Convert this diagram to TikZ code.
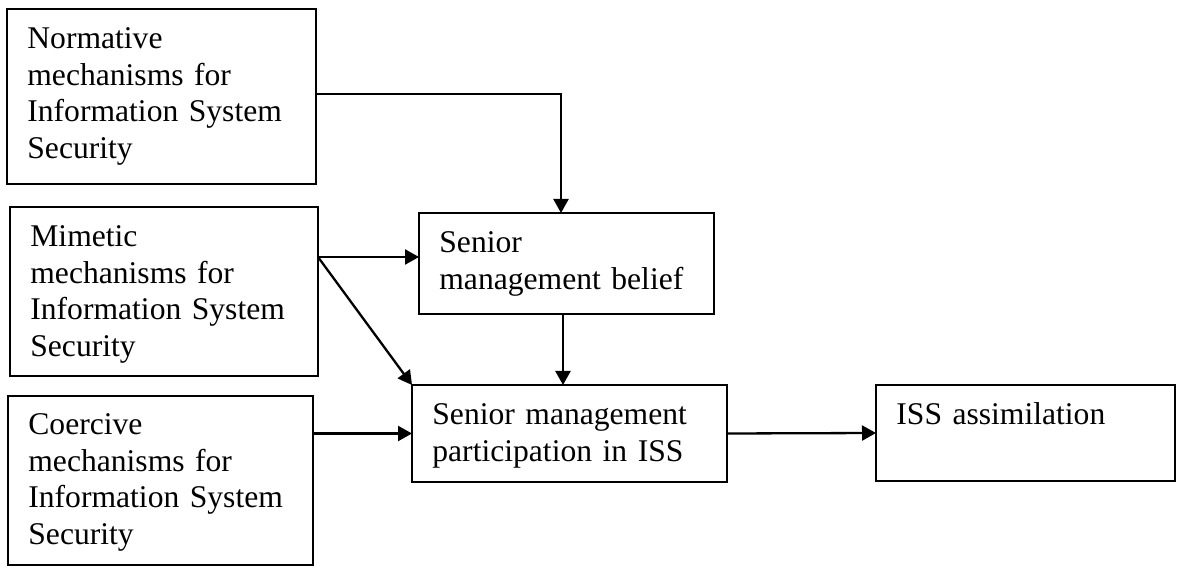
\documentclass[tikz,border=0pt]{standalone}
\usepackage{fontspec}
\setmainfont{Liberation Serif}
\usetikzlibrary{arrows.meta,calc}
\begin{document}
\begin{tikzpicture}[x=0.5pt,y=-0.5pt,
  box/.style={draw,line width=1.15pt,inner sep=0pt,outer sep=0pt},
  label/.style={anchor=base west,inner sep=0pt,text width=170pt,align=left,
    font=\fontsize{15.8pt}{18.2pt}\selectfont},
  arr/.style={line width=1.15pt,-{Triangle[length=7pt,width=7.5pt]}}]
  \useasboundingbox (0,0) rectangle (1178,566);

  % boxes
  \node[box,minimum width=154.5pt,minimum height=87.5pt] (N) at (161.5,96.5) {};
  \node[box,minimum width=154pt,minimum height=84.5pt]   (M) at (164,291.5) {};
  \node[box,minimum width=152.5pt,minimum height=84.5pt] (C) at (160.5,480.5) {};
  \node[box,minimum width=147.5pt,minimum height=50.5pt] (B) at (566.5,263.5) {};
  \node[box,minimum width=157.5pt,minimum height=48.5pt] (P) at (569.5,433.5) {};
  \node[box,minimum width=149.5pt,minimum height=48pt]   (I) at (1025.5,433) {};

  % box texts
  \node[label] (Nt) at ($(N.north west)+(20,40)$)
    {Normative\\mechanisms for\\Information System\\Security};
  \node[label] (Mt) at ($(M.north west)+(20,40)$)
    {Mimetic\\mechanisms for\\Information System\\Security};
  \node[label] (Ct) at ($(C.north west)+(20,39)$)
    {Coercive\\mechanisms for\\Information System\\Security};
  \node[label] (Bt) at ($(B.north west)+(20,40)$)
    {Senior\\management belief};
  \node[label] (Pt) at ($(P.north west)+(20,40)$)
    {Senior management\\participation in ISS};
  \node[label] (It) at ($(I.north west)+(20,40)$)
    {ISS assimilation};

  % connectors
  \coordinate (nb) at ($(B.north)+(-5.5,0)$);
  \draw[arr] ($(N.east)+(0,-2.5)$) -| (nb);
  \coordinate (m1) at ($(M.north east)+(0,50)$);
  \draw[arr] (m1) -- (m1 -| B.west);
  \draw[arr] (m1) -- (P.north west);
  \coordinate (bp) at ($(B.south)+(-3.5,0)$);
  \draw[arr] (bp) -- (bp |- P.north);
  \draw[arr] (C.east |- P.west) -- (P.west);
  \draw[arr] (P.east) -- (I.west);
\end{tikzpicture}
\end{document}
